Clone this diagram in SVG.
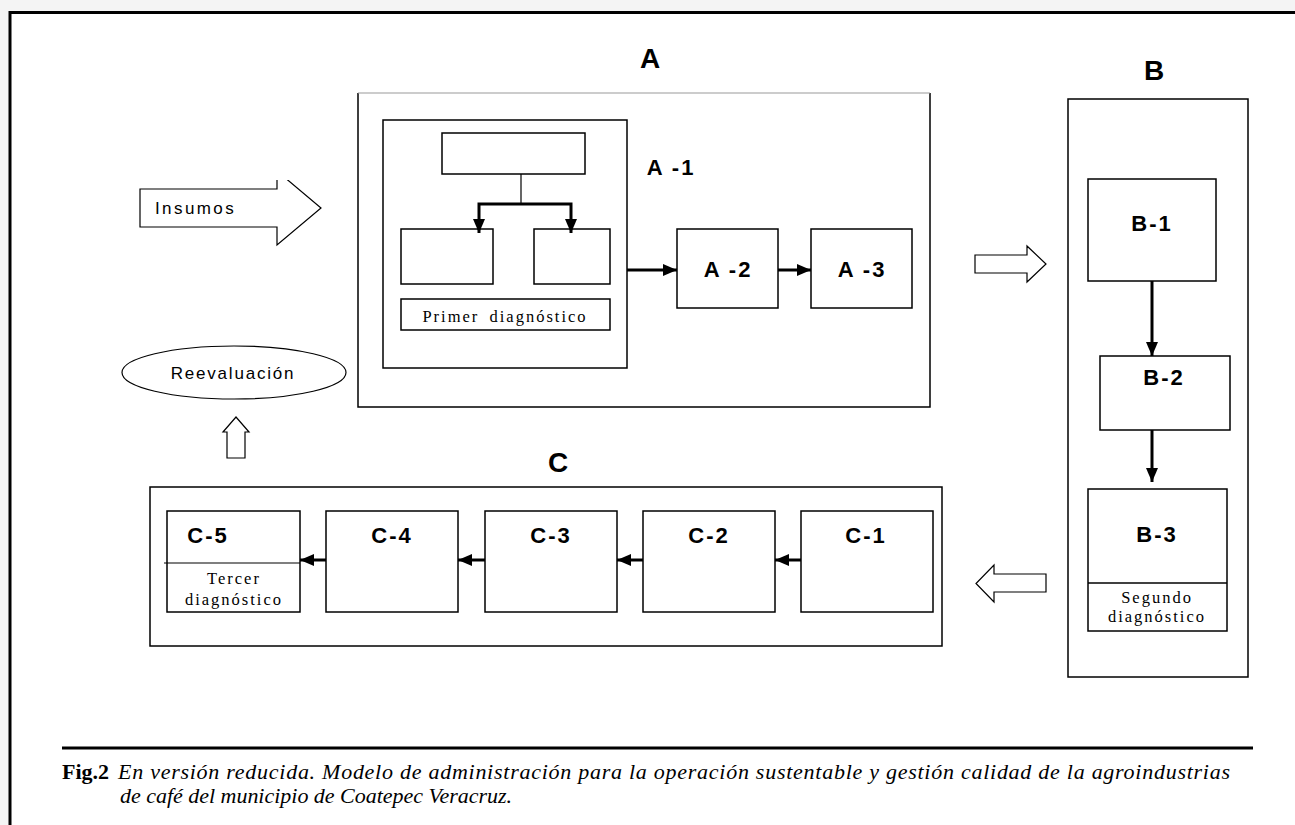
<svg xmlns="http://www.w3.org/2000/svg" width="1295" height="825" viewBox="0 0 1295 825">
<style>
.box{fill:#fff;stroke:#000;stroke-width:1.5}
.thin{fill:none;stroke:#000;stroke-width:1.2}
.conn{fill:none;stroke:#000;stroke-width:3}
.hollow{fill:#fff;stroke:#000;stroke-width:1.2;stroke-linejoin:miter}
.lbl{font-family:"Liberation Sans",Arial,sans-serif;font-weight:bold;font-size:22px;letter-spacing:2px;text-anchor:middle}
.title{font-family:"Liberation Sans",Arial,sans-serif;font-weight:bold;font-size:28px;text-anchor:middle}
.sans{font-family:"Liberation Sans",Arial,sans-serif;font-size:17px}
.serif{font-family:"Liberation Serif","Times New Roman",serif;font-size:16.5px;letter-spacing:2px;text-anchor:middle}
.cap{font-family:"Liberation Serif","Times New Roman",serif;font-size:22px}
</style>
<defs>
<marker id="ah" markerUnits="userSpaceOnUse" markerWidth="14" markerHeight="12" refX="14" refY="6" orient="auto">
<path d="M0,0 L14,6 L0,12 Z" fill="#000"/>
</marker>
<clipPath id="clipIns"><rect x="130" y="180" width="200" height="80"/></clipPath>
</defs>
<rect x="0" y="0" width="1295" height="825" fill="#f4f4f4"/>
<rect x="10" y="12" width="1290" height="820" fill="#fff"/>
<path d="M10,825 V12.5 H1295" fill="none" stroke="#000" stroke-width="3"/>

<g id="titles">
<text class="title" x="650" y="68">A</text>
<text class="title" x="1154" y="80">B</text>
<text class="title" x="558" y="472">C</text>
</g>

<g id="insumos">
<polygon class="hollow" clip-path="url(#clipIns)" points="140,189 277,189 277,171 321,208 277,245 277,227 140,227"/>
<text class="sans" x="155" y="214" font-size="18" letter-spacing="2.4">Insumos</text>
</g>

<g id="reevaluacion">
<ellipse class="thin" cx="234" cy="372.5" rx="112" ry="26.5" fill="#fff"/>
<text class="sans" x="233" y="379" text-anchor="middle" letter-spacing="1.8">Reevaluación</text>
</g>

<g id="arrow-up">
<polygon class="hollow" points="227,458 227,432 223,432 236,417 249,432 245,432 245,458"/>
</g>

<g id="A">
<rect x="358" y="93" width="572" height="314" fill="#fff" stroke="none"/>
<path d="M358,93 V407 H930 V93" fill="none" stroke="#000" stroke-width="1.5"/>
<line x1="358" y1="93" x2="930" y2="93" stroke="#999" stroke-width="1.2"/>
</g>

<g id="A-1">
<rect class="box" x="383" y="120" width="244" height="248"/>
<text class="lbl" x="671" y="175" letter-spacing="1">A -1</text>
</g>
<g id="A-1-top"><rect class="box" x="442" y="133" width="143" height="41"/></g>
<g id="A-1-left"><rect class="box" x="401" y="229" width="92" height="55"/></g>
<g id="A-1-right"><rect class="box" x="534" y="229" width="76" height="55"/></g>
<g id="primer">
<rect class="box" x="401" y="299" width="209" height="31"/>
<text class="serif" x="505" y="322" font-size="17" letter-spacing="1.5" word-spacing="4">Primer diagnóstico</text>
</g>

<g id="A-2">
<rect class="box" x="677" y="229" width="101" height="79"/>
<text class="lbl" x="728" y="277">A -2</text>
</g>
<g id="A-3">
<rect class="box" x="811" y="229" width="101" height="79"/>
<text class="lbl" x="862" y="277">A -3</text>
</g>

<g id="arrow-right">
<polygon class="hollow" points="975,255 1027,255 1027,246 1046,264 1027,282 1027,273 975,273"/>
</g>

<g id="B">
<rect class="box" x="1068" y="99" width="180" height="578"/>
</g>
<g id="B-1">
<rect class="box" x="1088" y="179" width="128" height="102"/>
<text class="lbl" x="1152" y="231">B-1</text>
</g>
<g id="B-2">
<rect class="box" x="1100" y="356" width="130" height="74"/>
<text class="lbl" x="1164" y="385">B-2</text>
</g>
<g id="B-3">
<rect class="box" x="1088" y="489" width="139" height="142"/>
<line x1="1088" y1="583" x2="1227" y2="583" stroke="#000" stroke-width="1.5"/>
<text class="lbl" x="1157" y="542">B-3</text>
<text class="serif" x="1157" y="603">Segundo</text>
<text class="serif" x="1157" y="622">diagnóstico</text>
</g>

<g id="arrow-left">
<polygon class="hollow" points="1046,574 994,574 994,565 976,583.5 994,602 994,592 1046,592"/>
</g>

<g id="C">
<rect class="box" x="150" y="487" width="792" height="159"/>
</g>
<g id="C-1">
<rect class="box" x="801" y="511" width="132" height="101"/>
<text class="lbl" x="866" y="543">C-1</text>
</g>
<g id="C-2">
<rect class="box" x="643" y="511" width="132" height="101"/>
<text class="lbl" x="709" y="543">C-2</text>
</g>
<g id="C-3">
<rect class="box" x="485" y="511" width="132" height="101"/>
<text class="lbl" x="551" y="543">C-3</text>
</g>
<g id="C-4">
<rect class="box" x="326" y="511" width="132" height="101"/>
<text class="lbl" x="392" y="543">C-4</text>
</g>
<g id="C-5">
<rect class="box" x="167" y="511" width="133" height="101"/>
<text class="lbl" x="208" y="543">C-5</text>
<text class="serif" x="234" y="584">Tercer</text>
<text class="serif" x="234" y="605">diagnóstico</text>
</g>

<g id="connectors">
<line x1="521" y1="174" x2="521" y2="204" stroke="#000" stroke-width="1.2"/>
<path class="conn" d="M479,212 V204 H571 V212" stroke-width="2.5"/>
<line class="conn" x1="479" y1="212" x2="479" y2="233" marker-end="url(#ah)"/>
<line class="conn" x1="571" y1="212" x2="571" y2="233" marker-end="url(#ah)"/>
<line class="conn" x1="627" y1="270" x2="677" y2="270" marker-end="url(#ah)"/>
<line class="conn" x1="778" y1="270" x2="811" y2="270" marker-end="url(#ah)"/>
<line class="conn" x1="1152" y1="281" x2="1152" y2="356" marker-end="url(#ah)"/>
<line class="conn" x1="1152" y1="430" x2="1152" y2="482" marker-end="url(#ah)"/>
<line class="conn" x1="801" y1="560" x2="775" y2="560" marker-end="url(#ah)"/>
<line class="conn" x1="643" y1="560" x2="617" y2="560" marker-end="url(#ah)"/>
<line class="conn" x1="485" y1="560" x2="458" y2="560" marker-end="url(#ah)"/>
<line class="conn" x1="326" y1="560" x2="300" y2="560" marker-end="url(#ah)"/>
<line x1="164" y1="563" x2="300" y2="563" stroke="#000" stroke-width="1.2"/>
</g>

<g id="caption">
<line x1="62" y1="748" x2="1253" y2="748" stroke="#000" stroke-width="3"/>
<text class="cap" x="62" y="779" font-weight="bold">Fig.2</text>
<text class="cap" x="118" y="779" font-style="italic" textLength="1112" lengthAdjust="spacing">En versión reducida. Modelo de administración para la operación sustentable y gestión calidad de la agroindustrias</text>
<text class="cap" x="120" y="803" font-style="italic" textLength="392" lengthAdjust="spacing">de café del municipio de Coatepec Veracruz.</text>
</g>
</svg>
